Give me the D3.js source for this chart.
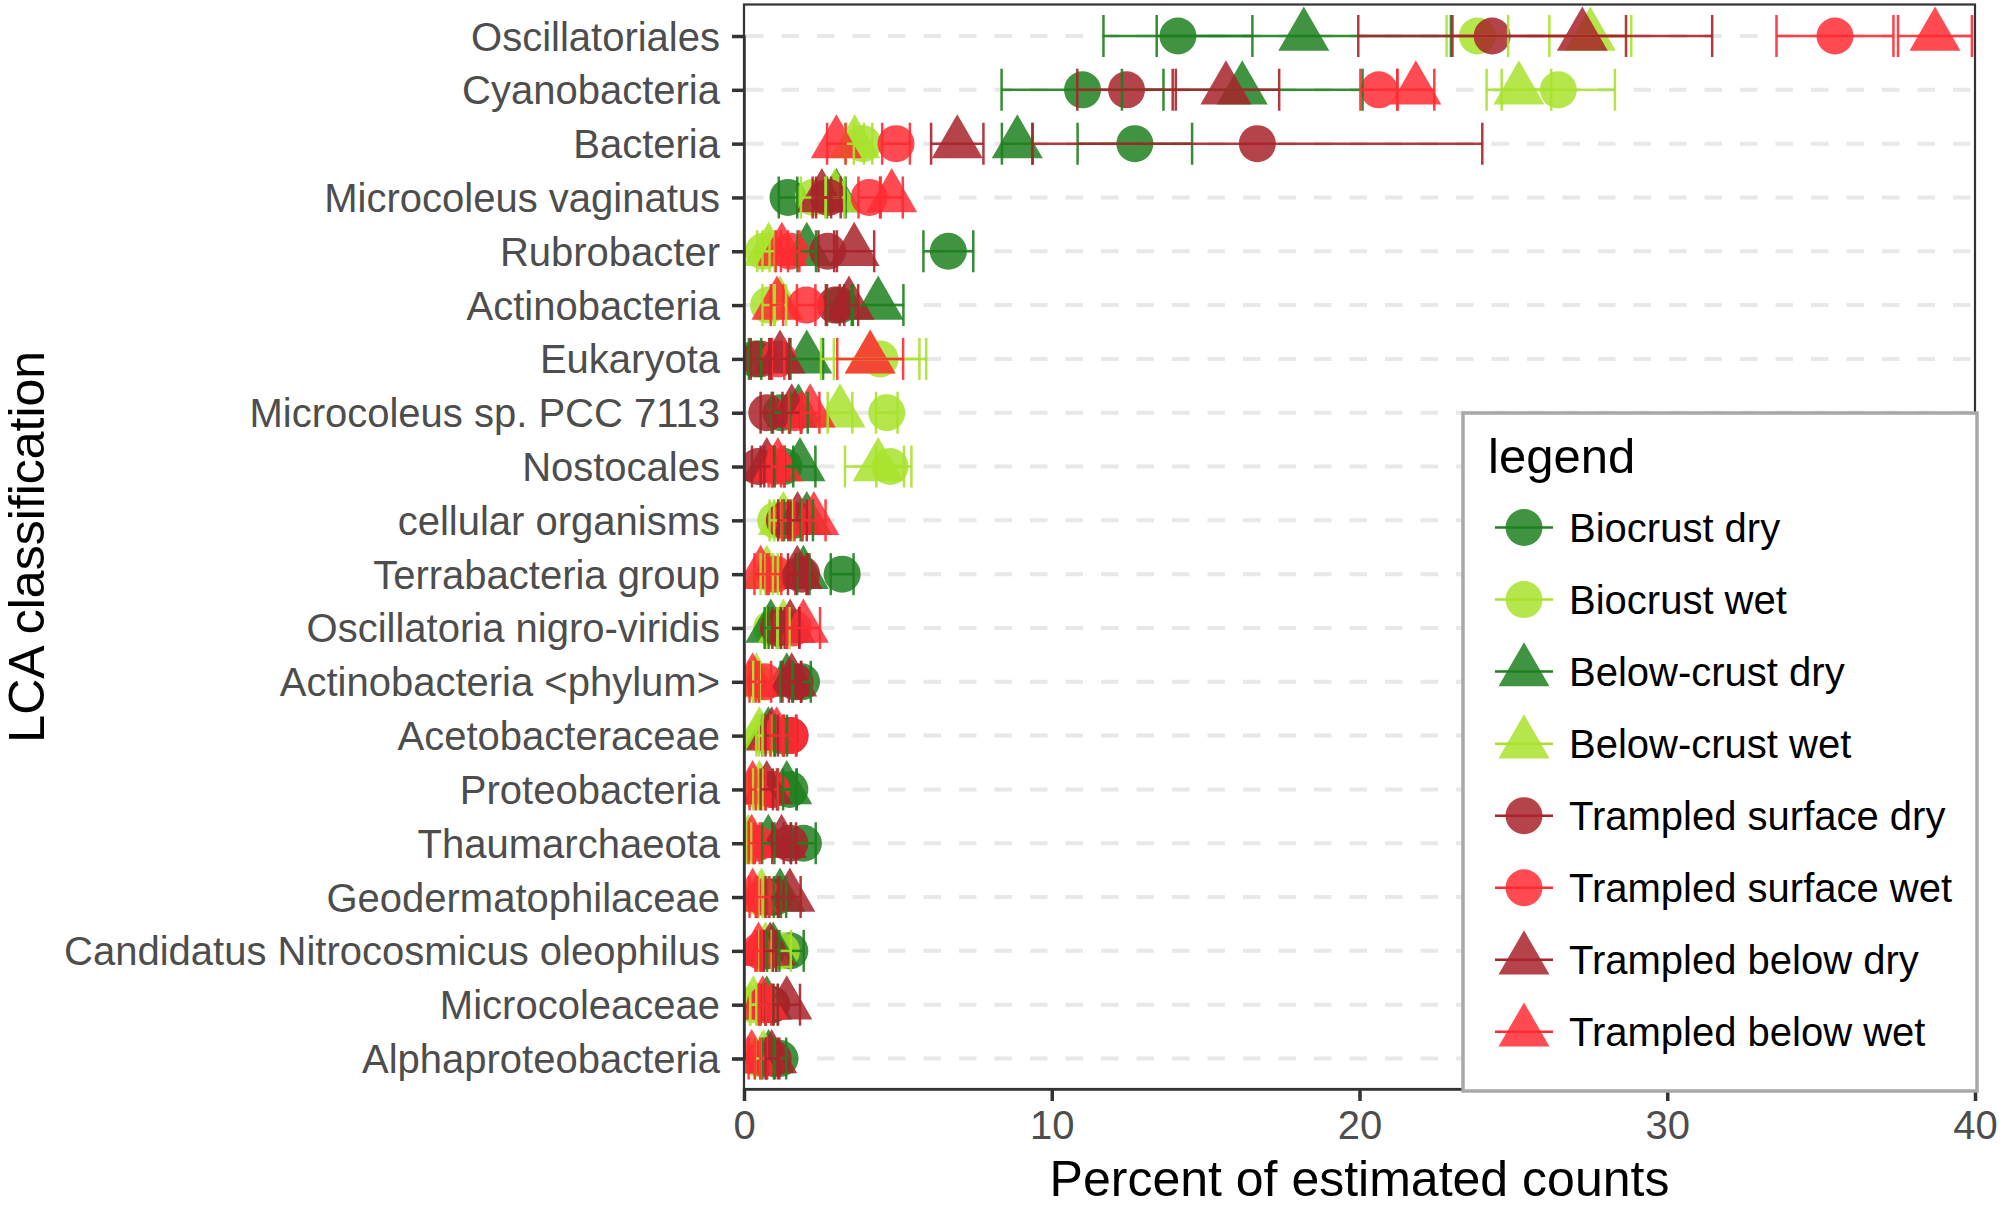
<!DOCTYPE html>
<html>
<head>
<meta charset="utf-8">
<script src="https://cdn.jsdelivr.net/npm/d3@7"></script>
<style>
  html, body { margin: 0; padding: 0; background: #fff; }
  svg { display: block; font-family: "Liberation Sans", Arial, Helvetica, sans-serif; }
</style>
</head>
<body>
<svg id="chart" width="2000" height="1207"></svg>
<script>
// ---------- data ----------
const categories = [
  "Oscillatoriales", "Cyanobacteria", "Bacteria", "Microcoleus vaginatus", "Rubrobacter",
  "Actinobacteria", "Eukaryota", "Microcoleus sp. PCC 7113", "Nostocales", "cellular organisms",
  "Terrabacteria group", "Oscillatoria nigro-viridis", "Actinobacteria <phylum>", "Acetobacteraceae",
  "Proteobacteria", "Thaumarchaeota", "Geodermatophilaceae", "Candidatus Nitrocosmicus oleophilus",
  "Microcoleaceae", "Alphaproteobacteria"
];

const seriesNames = [
  "Biocrust dry", "Biocrust wet", "Below-crust dry", "Below-crust wet",
  "Trampled surface dry", "Trampled surface wet", "Trampled below dry", "Trampled below wet"
];

const biocrustDry      = [14.1, 11.0, 12.7, 1.43, 6.64, 3.1, 0.36, 1.2, 1.3, 1.6, 3.19, 1.0, 1.87, 1.2, 1.49, 1.93, 1.0, 1.49, 0.9, 1.17];
const biocrustDryErr   = [2.42, 2.63, 1.86, 0.3, 0.81, 0.4, 0.2, 0.3, 0.3, 0.3, 0.37, 0.2, 0.3, 0.2, 0.22, 0.4, 0.2, 0.45, 0.2, 0.2];

const biocrustWet      = [23.83, 26.46, 3.87, 2.25, 0.63, 0.8, 4.42, 4.64, 4.75, 1.03, 0.9, 0.9, 0.4, 0.68, 0.4, 0.2, 0.5, 1.22, 0.3, 0.46];
const biocrustWetErr   = [1.0, 1.84, 0.3, 0.4, 0.2, 0.2, 1.5, 0.35, 0.45, 0.2, 0.2, 0.2, 0.1, 0.2, 0.1, 0.1, 0.1, 0.3, 0.1, 0.1];

const belowDry         = [18.19, 16.19, 8.88, 3.0, 2.04, 4.36, 2.04, 1.77, 1.82, 2.04, 1.93, 0.87, 1.39, 0.79, 1.39, 0.79, 1.17, 0.95, 0.74, 0.8];
const belowDryErr      = [4.78, 3.91, 0.5, 0.3, 0.3, 0.82, 0.53, 0.3, 0.5, 0.2, 0.2, 0.2, 0.2, 0.2, 0.32, 0.2, 0.2, 0.2, 0.2, 0.2];

const belowWet         = [27.5, 25.18, 3.6, 2.96, 0.8, 1.17, 4.1, 3.12, 4.36, 1.28, 0.74, 1.28, 0.4, 0.5, 0.5, 0.14, 0.57, 0.7, 0.3, 0.63];
const belowWetErr      = [1.33, 1.05, 0.3, 0.3, 0.2, 0.2, 1.6, 0.4, 1.08, 0.3, 0.2, 0.2, 0.1, 0.1, 0.1, 0.1, 0.1, 0.2, 0.1, 0.1];

const tramSurfDry      = [24.31, 12.43, 16.68, 2.74, 2.72, 2.96, 0.52, 0.74, 0.46, 1.31, 1.87, 1.12, 1.66, 1.5, 0.9, 1.49, 0.9, 0.74, 0.9, 0.95];
const tramSurfDryErr   = [4.35, 1.6, 7.31, 0.4, 0.3, 0.3, 0.3, 0.2, 0.2, 0.2, 0.2, 0.2, 0.2, 0.2, 0.2, 0.2, 0.2, 0.2, 0.2, 0.2];

const tramSurfWet      = [35.45, 20.63, 4.94, 4.07, 1.5, 2.02, 1.11, 1.66, 1.0, 1.44, 1.01, 1.6, 0.68, 1.49, 0.9, 0.41, 0.63, 0.52, 0.68, 0.63];
const tramSurfWetErr   = [1.9, 0.6, 0.45, 0.35, 0.3, 0.3, 0.2, 0.2, 0.2, 0.2, 0.2, 0.2, 0.2, 0.2, 0.2, 0.1, 0.2, 0.1, 0.2, 0.1];

const tramBelowDry     = [27.24, 15.66, 6.93, 2.53, 3.58, 3.41, 1.17, 1.55, 0.74, 1.74, 1.73, 1.5, 1.55, 0.9, 0.74, 1.22, 1.49, 0.85, 1.39, 0.9];
const tramBelowDryErr  = [4.22, 1.73, 0.85, 0.3, 0.65, 0.3, 0.3, 0.3, 0.2, 0.3, 0.3, 0.3, 0.3, 0.2, 0.2, 0.3, 0.35, 0.2, 0.43, 0.2];

const tramBelowWet     = [38.7, 21.83, 3.0, 4.8, 1.23, 1.07, 4.1, 2.15, 1.1, 2.27, 0.54, 1.93, 0.28, 1.06, 0.28, 0.25, 0.28, 0.47, 0.61, 0.25];
const tramBelowWetErr  = [1.2, 0.6, 0.3, 0.36, 0.2, 0.2, 1.07, 0.3, 0.2, 0.38, 0.2, 0.54, 0.1, 0.2, 0.1, 0.1, 0.1, 0.1, 0.1, 0.1];

const xTicks = [0, 10, 20, 30, 40];

// ---------- styles ----------
const seriesColors = ["#1E801E", "#A8E22C", "#1E801E", "#A8E22C", "#A8232A", "#FF2B33", "#A8232A", "#FF2B33"];
const seriesShapes = ["circle", "circle", "triangle", "triangle", "circle", "circle", "triangle", "triangle"];
const seriesValues = [biocrustDry, biocrustWet, belowDry, belowWet, tramSurfDry, tramSurfWet, tramBelowDry, tramBelowWet];
const seriesErrors = [biocrustDryErr, biocrustWetErr, belowDryErr, belowWetErr, tramSurfDryErr, tramSurfWetErr, tramBelowDryErr, tramBelowWetErr];

const series = seriesNames.map((name, i) => ({
  name, color: seriesColors[i], shape: seriesShapes[i],
  points: categories.map((c, j) => ({ cat: c, v: seriesValues[i][j], e: seriesErrors[i][j] }))
}));

// ---------- layout ----------
const panel = { left: 744, right: 1975, top: 4.5, bottom: 1089 };
const svg = d3.select("#chart");

const x = d3.scaleLinear().domain([0, 40]).range([panel.left, panel.right]);
const y = d3.scalePoint().domain(categories).range([36, 1058.5]);

const symCircle = d3.symbol().type(d3.symbolCircle).size(Math.PI * 18.5 * 18.5);
const symTri = d3.symbol().type(d3.symbolTriangle).size(1127);
const OPAC = 0.85;

// background
svg.append("rect").attr("x", 0).attr("y", 0).attr("width", 2000).attr("height", 1207).attr("fill", "#fff");

// clip
svg.append("clipPath").attr("id", "pclip").append("rect")
  .attr("x", panel.left).attr("y", panel.top)
  .attr("width", panel.right - panel.left).attr("height", panel.bottom - panel.top);

// gridlines (horizontal dashed)
svg.append("g").selectAll("line").data(categories).join("line")
  .attr("x1", panel.left + 2).attr("x2", panel.right)
  .attr("y1", d => y(d)).attr("y2", d => y(d))
  .attr("stroke", "#E8E8E8").attr("stroke-width", 4)
  .attr("stroke-dasharray", "17.5 18");

const plot = svg.append("g").attr("clip-path", "url(#pclip)");

// points
series.forEach(s => {
  plot.append("g").selectAll("path").data(s.points).join("path")
    .attr("d", s.shape === "circle" ? symCircle() : symTri())
    .attr("transform", d => `translate(${x(d.v)},${y(d.cat)})`)
    .attr("fill", s.color).attr("fill-opacity", OPAC);
});

// error bars
series.forEach(s => {
  const g = plot.append("g").attr("stroke", s.color).attr("stroke-opacity", 0.9).attr("stroke-width", 2.5);
  g.selectAll("line.h").data(s.points).join("line").attr("class", "h")
    .attr("x1", d => x(d.v - d.e)).attr("x2", d => x(d.v + d.e))
    .attr("y1", d => y(d.cat)).attr("y2", d => y(d.cat));
  g.selectAll("line.l").data(s.points).join("line").attr("class", "l")
    .attr("x1", d => x(d.v - d.e)).attr("x2", d => x(d.v - d.e))
    .attr("y1", d => y(d.cat) - 21).attr("y2", d => y(d.cat) + 21);
  g.selectAll("line.r").data(s.points).join("line").attr("class", "r")
    .attr("x1", d => x(d.v + d.e)).attr("x2", d => x(d.v + d.e))
    .attr("y1", d => y(d.cat) - 21).attr("y2", d => y(d.cat) + 21);
});

// panel border
svg.append("rect")
  .attr("x", panel.left).attr("y", panel.top)
  .attr("width", panel.right - panel.left).attr("height", panel.bottom - panel.top)
  .attr("fill", "none").attr("stroke", "#333").attr("stroke-width", 2.2);

// axes
const xAxis = d3.axisBottom(x).tickValues(xTicks).tickSize(12).tickPadding(10).tickFormat(d3.format("d"));
const gx = svg.append("g").attr("transform", `translate(0,${panel.bottom})`).call(xAxis);
gx.select(".domain").attr("stroke", "#333").attr("stroke-width", 2.5);
gx.selectAll(".tick line").attr("stroke", "#333").attr("stroke-width", 3.5);
gx.selectAll(".tick text").attr("font-size", 40).attr("fill", "#4D4D4D")
  .attr("font-family", "Liberation Sans, Arial, sans-serif").attr("dy", "0.71em");

const yAxis = d3.axisLeft(y).tickSize(12).tickPadding(12);
const gy = svg.append("g").attr("transform", `translate(${panel.left},0)`).call(yAxis);
gy.select(".domain").attr("stroke", "#333").attr("stroke-width", 2.5);
gy.selectAll(".tick line").attr("stroke", "#333").attr("stroke-width", 3.5);
gy.selectAll(".tick text").attr("font-size", 40).attr("fill", "#4D4D4D")
  .attr("font-family", "Liberation Sans, Arial, sans-serif").attr("dy", "0.35em");

// axis titles
svg.append("text").attr("x", (panel.left + panel.right) / 2).attr("y", 1196)
  .attr("text-anchor", "middle").attr("font-size", 50).attr("fill", "#000")
  .text("Percent of estimated counts");
svg.append("text").attr("transform", `translate(44,${(panel.top + panel.bottom) / 2}) rotate(-90)`)
  .attr("text-anchor", "middle").attr("font-size", 50).attr("fill", "#000")
  .text("LCA classification");

// legend
const lg = svg.append("g");
lg.append("rect").attr("x", 1463).attr("y", 413).attr("width", 514).attr("height", 678)
  .attr("fill", "#fff").attr("stroke", "#A8A8A8").attr("stroke-width", 3.5);
lg.append("text").attr("x", 1488).attr("y", 473).attr("font-size", 49).attr("fill", "#000").text("legend");
const items = lg.selectAll("g.item").data(series).join("g").attr("class", "item")
  .attr("transform", (d, i) => `translate(0,${527.5 + i * 72.05})`);
items.append("path").attr("d", d => d.shape === "circle" ? symCircle() : symTri())
  .attr("transform", "translate(1524,0)")
  .attr("fill", d => d.color).attr("fill-opacity", OPAC);
items.append("line").attr("x1", 1495).attr("x2", 1553).attr("y1", 0).attr("y2", 0)
  .attr("stroke", d => d.color).attr("stroke-width", 2.5);
items.append("text").attr("x", 1569).attr("y", 0).attr("dy", "0.35em")
  .attr("font-size", 40).attr("fill", "#000").text(d => d.name);
</script>
</body>
</html>
